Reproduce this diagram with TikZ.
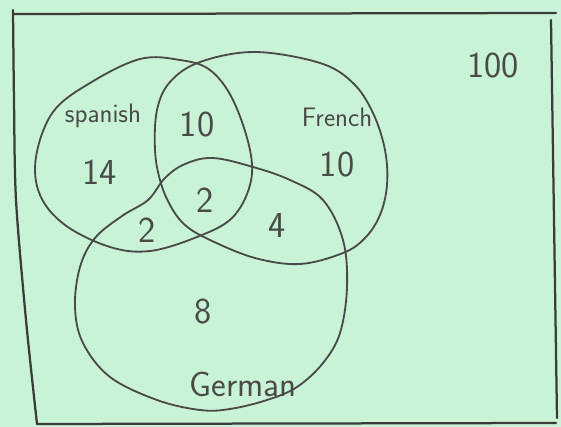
\documentclass[tikz,border=0pt]{standalone}
\usepackage{tikz}
\definecolor{cfondo}{HTML}{C9F3D6}
\definecolor{ctrazo}{HTML}{4A4A48}
\tikzset{
  conjunto/.style={draw=ctrazo,line width=1.3pt,line join=round},
  marco/.style={draw=ctrazo!80!black,line width=1.6pt,line cap=round},
  et/.style={font=\sffamily\fontsize{19}{22}\selectfont,text=ctrazo,inner sep=1pt},
  etg/.style={et,font=\sffamily\fontsize{25}{28}\selectfont},
  num/.style={font=\sffamily\fontsize{26}{30}\selectfont,text=ctrazo,inner sep=1pt},
}

\begin{document}
\begin{tikzpicture}[x=0.025cm,y=-0.025cm]

\fill[cfondo] (0,0) rectangle (561,427);
\useasboundingbox (0,0) rectangle (561,427);

% marco del universo
\draw[marco] plot[smooth] coordinates {(13,10) (14,100) (16,200) (26,320) (37,424)};
\draw[marco] (13,14) -- (556,13);
\draw[marco] (551,20) -- (557,418);
\draw[marco] (37,424) -- (556,423);

% conjuntos
\draw[conjunto] plot[smooth cycle,tension=0.6] coordinates {(140,59) (180,60) (210,70) (233,100)
  (250,150) (250,185) (232,218) (197,237) (150,251) (110,247) (65,225) (40,195) (36,157) (53,112) (90,83)};
\draw[conjunto] plot[smooth cycle,tension=0.6] coordinates {(255,52) (320,63) (353,83) (373,113)
  (385,150) (387,185) (380,215) (365,238) (343,253) (300,264) (255,258) (210,240) (185,225)
  (170,205) (160,180) (155,150) (157,110) (170,82) (200,62)};
\draw[conjunto] plot[smooth cycle,tension=0.6] coordinates {(185,164) (213,158) (253,167)
  (290,180) (323,200) (343,240) (347,287) (340,333) (323,363) (297,387) (267,400) (230,409)
  (200,410) (157,400) (110,377) (83,343) (75,307) (80,267) (95,238) (122,216) (148,200) (165,178)};

% etiquetas
\node[et]  (espanol) at (103,116) {spanish};
\node[et]  (frances) at (337,117) {French};
\node[etg] (aleman)  at (243,384) {German};
\node[num] (total)   at (493,66)  {100};

\node[num] (soloesp) at (100,172) {14};
\node[num] (espfra)  at (197,125) {10};
\node[num] (solofra) at (337,165) {10};
\node[num] (tres)    at (205,200) {2};
\node[num] (espale)  at (147,230) {2};
\node[num] (fraale)  at (277,226) {4};
\node[num] (soloale) at (203,312) {8};

\end{tikzpicture}
\end{document}
